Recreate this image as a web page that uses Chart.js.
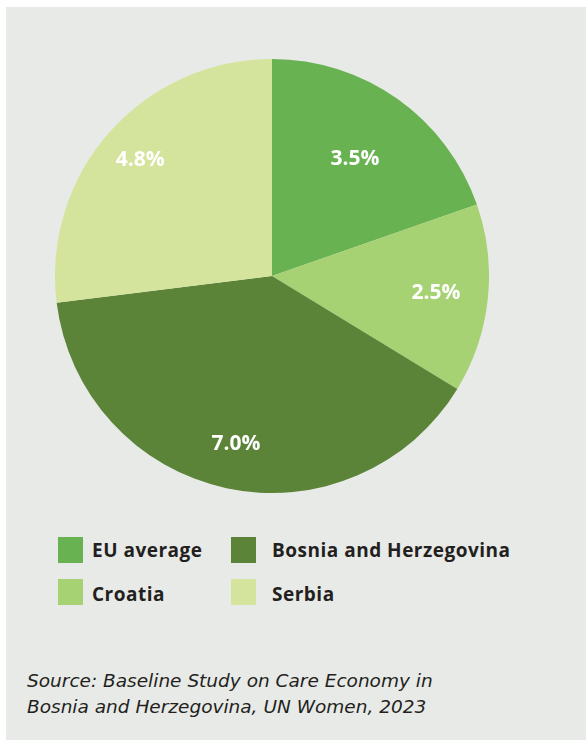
<!DOCTYPE html>
<html>
<head>
<meta charset="utf-8">
<script src="https://cdn.jsdelivr.net/npm/chart.js@4"></script>
<style>
    html, body { margin: 0; padding: 0; background: #ffffff; }
    body { width: 586px; height: 740px; position: relative; overflow: hidden; font-family: 'Open Sans', sans-serif; }
    #panel { position: absolute; left: 6px; top: 7px; width: 580px; height: 733px; background: #e8eae7; }
    #pieWrap { position: absolute; left: 55px; top: 59px; width: 434px; height: 434px; }
    #legend { position: absolute; left: 0; top: 0; }
    .box { position: absolute; width: 25px; height: 26px; }
    .txt { position: absolute; font-weight: 700; font-size: 19px; letter-spacing: 0.5px; line-height: 26px; color: #231f20; white-space: nowrap; }
    #source { position: absolute; left: 27px; top: 668px; font-family: 'DejaVu Sans', sans-serif; font-style: italic; font-size: 18.5px; line-height: 26px; color: #231f20; white-space: nowrap; }
</style>
</head>
<body>
<div id="panel"></div>
<div id="pieWrap"><canvas id="pieChart"></canvas></div>
<div id="legend"></div>
<div id="source">Source: Baseline Study on Care Economy in<br>Bosnia and Herzegovina, UN Women, 2023</div>
<script>
// Data
const countries = ['EU average', 'Croatia', 'Bosnia and Herzegovina', 'Serbia'];
const shares = [3.5, 2.5, 7.0, 4.8];
const sliceColors = ['#69b251', '#a6d273', '#5b8439', '#d5e49c'];

// where each label sits along the slice radius
const labelRadius = [0.66, 0.76, 0.79, 0.81];

const sliceLabels = {
    id: 'sliceLabels',
    afterDatasetsDraw(chart) {
        const ctx = chart.ctx;
        const meta = chart.getDatasetMeta(0);
        ctx.save();
        ctx.fillStyle = '#ffffff';
        ctx.font = 'bold 21px "Open Sans"';
        ctx.textAlign = 'center';
        ctx.textBaseline = 'middle';
        meta.data.forEach((arc, i) => {
            const mid = (arc.startAngle + arc.endAngle) / 2;
            const r = arc.outerRadius * labelRadius[i];
            const x = arc.x + Math.cos(mid) * r;
            const y = arc.y + Math.sin(mid) * r;
            ctx.fillText(shares[i].toFixed(1) + '%', x, y);
        });
        ctx.restore();
    }
};

const pieChart = new Chart(document.getElementById('pieChart'), {
    type: 'pie',
    data: {
        labels: countries,
        datasets: [{
            data: shares,
            backgroundColor: sliceColors,
            borderWidth: 0,
            hoverOffset: 0,
        }],
    },
    options: {
        responsive: true,
        maintainAspectRatio: false,
        animation: false,
        layout: { padding: 0 },
        plugins: {
            legend: { display: false },
            tooltip: { enabled: false },
        },
    },
    plugins: [sliceLabels],
});

// Legend: two columns, built from the chart data
const legendEl = document.getElementById('legend');
const order = [0, 2, 1, 3];
const boxX = [58, 231];
const textX = [92, 272];
order.forEach((idx, n) => {
    const col = n % 2;
    const top = 537 + Math.floor(n / 2) * 42;
    const box = document.createElement('div');
    box.className = 'box';
    box.style.left = boxX[col] + 'px';
    box.style.top = top + 'px';
    box.style.background = sliceColors[idx];
    legendEl.appendChild(box);
    const txt = document.createElement('div');
    txt.className = 'txt';
    txt.style.left = textX[col] + 'px';
    txt.style.top = (top + n - n % 2) + 'px';
    txt.textContent = countries[idx];
    legendEl.appendChild(txt);
});
</script>
</body>
</html>
